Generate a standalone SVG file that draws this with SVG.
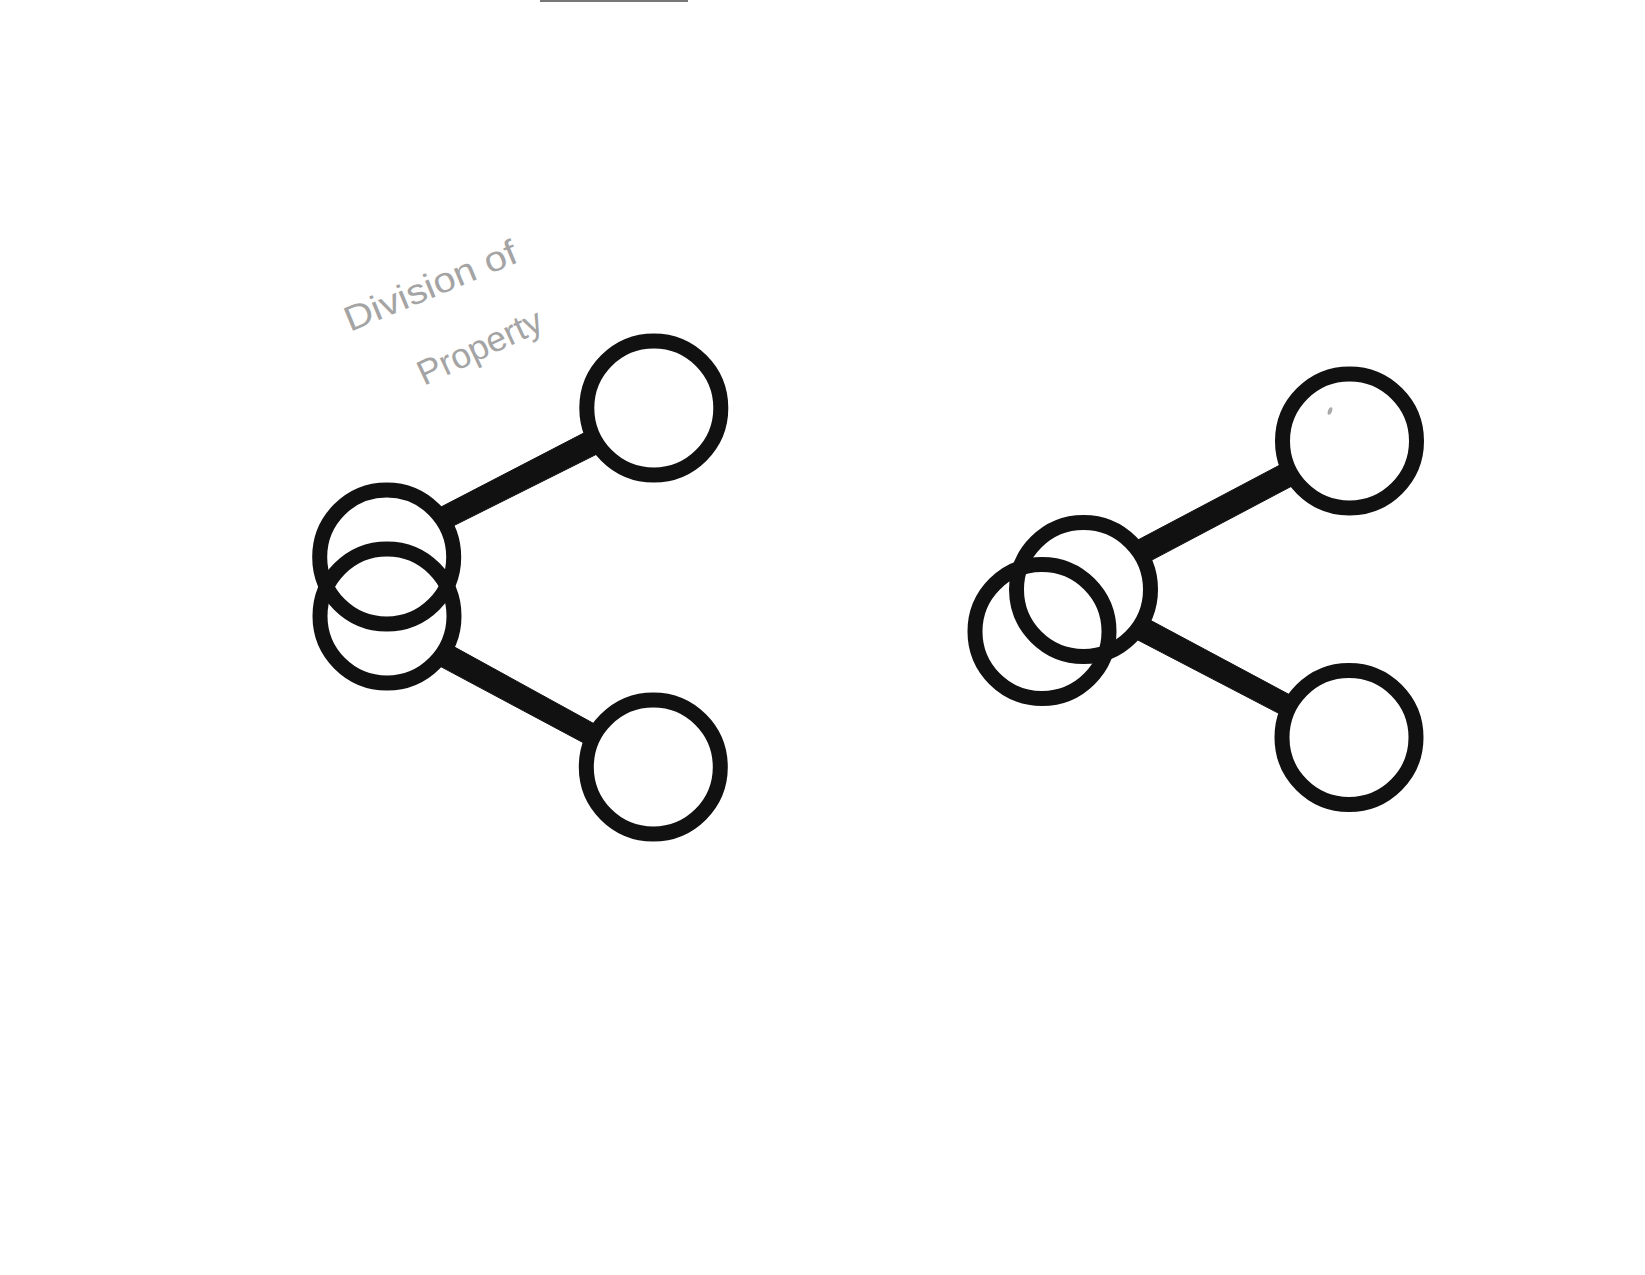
<svg xmlns="http://www.w3.org/2000/svg" width="1645" height="1275" viewBox="0 0 1645 1275">
<style>
.node{fill:none;stroke:#111;stroke-width:15}
.conn{fill:#111;stroke:#111;stroke-width:1;stroke-linejoin:round}
.hand{font-family:"Liberation Sans","DejaVu Sans",sans-serif;font-size:35px;fill:#a4a4a4}
</style>
<rect width="1645" height="1275" fill="#fff"/>
<rect x="540" y="0" width="148" height="2" fill="#777"/>
<g id="label">
<text class="hand" transform="translate(350,332) rotate(-22.5)" textLength="184" lengthAdjust="spacingAndGlyphs">Division of</text>
<text class="hand" transform="translate(424,386) rotate(-25)" textLength="134" lengthAdjust="spacingAndGlyphs">Property</text>
</g>
<g id="connectors">
<polygon class="conn" points="437,509.1 590,429.8 600,452.5 450,527.5"/>
<polygon class="conn" points="450,644.6 600,727 588,745.2 437,664.6"/>
<polygon class="conn" points="1136,541 1286,461.8 1294,484.9 1148,562.1"/>
<polygon class="conn" points="1148,619 1296,698.2 1284,716.1 1134,638"/>
</g>
<g id="node-left-top"><circle class="node" cx="653.8" cy="408" r="67"/></g>
<g id="node-left-upper"><circle class="node" cx="386.7" cy="557" r="67"/></g>
<g id="node-left-lower"><circle class="node" cx="387" cy="616" r="67"/></g>
<g id="node-left-bottom"><circle class="node" cx="653.3" cy="767" r="67"/></g>
<g id="node-right-top"><circle class="node" cx="1349.5" cy="441" r="67"/></g>
<g id="node-right-middle"><circle class="node" cx="1083.5" cy="589.5" r="67"/></g>
<g id="node-right-left"><circle class="node" cx="1042" cy="631.5" r="67"/></g>
<g id="node-right-bottom"><circle class="node" cx="1349" cy="737.5" r="67"/></g>
<ellipse cx="1330" cy="411" rx="2" ry="4" fill="#aaa" transform="rotate(20 1330 411)"/>
</svg>
